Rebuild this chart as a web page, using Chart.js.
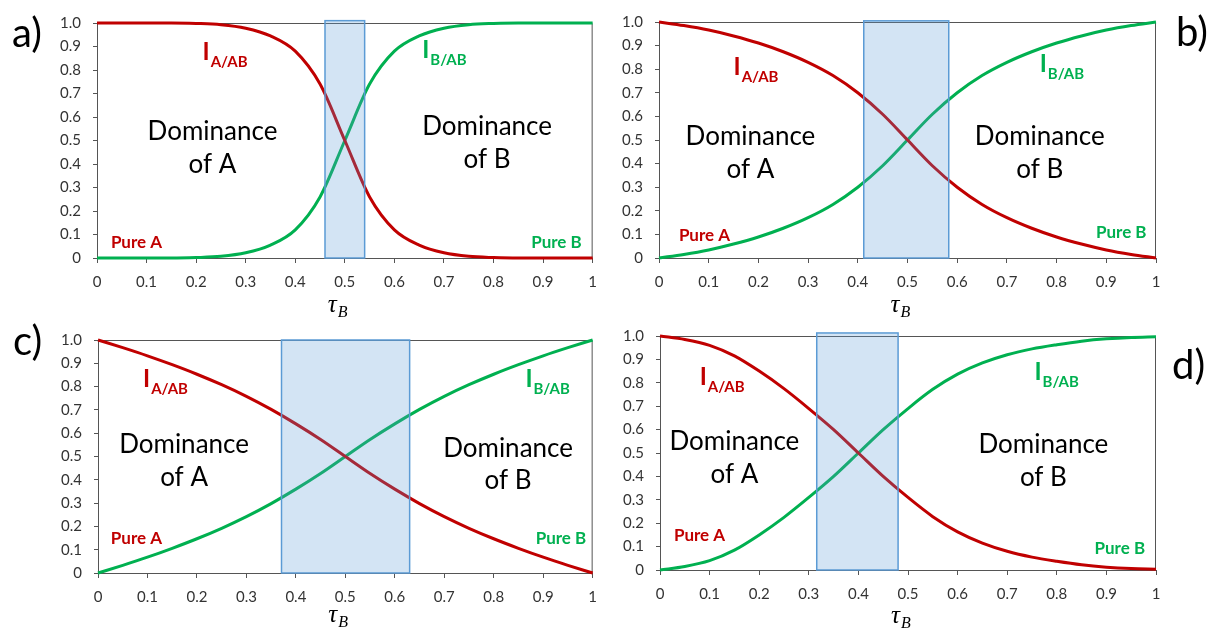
<!DOCTYPE html>
<html>
<head>
<meta charset="utf-8">
<script src="https://cdn.jsdelivr.net/npm/chart.js@4.4.0/dist/chart.umd.min.js"></script>
<style>
  body { margin: 0; background: #fff; }
  #wrap { position: relative; width: 1215px; height: 630px; overflow: hidden; }
  canvas { position: absolute; }
</style>
</head>
<body>
<div id="wrap">
  <canvas id="pa" width="607" height="330" style="left:0;top:0"></canvas>
  <canvas id="pb" width="608" height="330" style="left:607px;top:0"></canvas>
  <canvas id="pc" width="607" height="315" style="left:0;top:315px"></canvas>
  <canvas id="pd" width="608" height="315" style="left:607px;top:315px"></canvas>
</div>
<script>
// tau_B sample points (x axis)
const tauB = [0, 0.05, 0.1, 0.15, 0.2, 0.25, 0.3, 0.35, 0.4, 0.45, 0.5, 0.55, 0.6, 0.65, 0.7, 0.75, 0.8, 0.85, 0.9, 0.95, 1];

// panel a
const aRed   = [1, 1, 1, 1, 0.998, 0.993, 0.978, 0.945, 0.88, 0.74, 0.50, 0.26, 0.12, 0.055, 0.022, 0.007, 0.002, 0, 0, 0, 0];
const aGreen = [0, 0, 0, 0, 0.002, 0.007, 0.022, 0.055, 0.12, 0.26, 0.50, 0.74, 0.88, 0.945, 0.978, 0.993, 0.998, 1, 1, 1, 1];
// panel b
const bRed   = [1, 0.985, 0.966, 0.941, 0.911, 0.874, 0.829, 0.773, 0.70, 0.609, 0.50, 0.391, 0.30, 0.227, 0.171, 0.126, 0.089, 0.059, 0.034, 0.015, 0];
const bGreen = [0, 0.015, 0.034, 0.059, 0.089, 0.126, 0.171, 0.227, 0.30, 0.391, 0.50, 0.609, 0.70, 0.773, 0.829, 0.874, 0.911, 0.941, 0.966, 0.985, 1];
// panel c
const cRed   = [1, 0.967, 0.932, 0.894, 0.853, 0.808, 0.758, 0.702, 0.640, 0.573, 0.50, 0.427, 0.360, 0.298, 0.242, 0.192, 0.147, 0.106, 0.068, 0.033, 0];
const cGreen = [0, 0.033, 0.068, 0.106, 0.147, 0.192, 0.242, 0.298, 0.360, 0.427, 0.50, 0.573, 0.640, 0.702, 0.758, 0.808, 0.853, 0.894, 0.932, 0.967, 1];
// panel d
const dRed   = [1.00, 0.985, 0.96, 0.915, 0.85, 0.775, 0.69, 0.60, 0.50, 0.40, 0.31, 0.228, 0.163, 0.115, 0.08, 0.055, 0.037, 0.022, 0.012, 0.006, 0.003];
const dGreen = [0.0, 0.015, 0.04, 0.085, 0.15, 0.225, 0.31, 0.40, 0.50, 0.60, 0.69, 0.772, 0.837, 0.885, 0.92, 0.945, 0.963, 0.978, 0.988, 0.994, 0.997];

// shaded transition windows [from, to, top]
const aBox = [0.46, 0.54, 1.01];
const bBox = [0.412, 0.583, 1.005];
const cBox = [0.371, 0.63, 1.0];
const dBox = [0.316, 0.48, 1.013];

// tick labels
const xTicks = [0, 0.1, 0.2, 0.3, 0.4, 0.5, 0.6, 0.7, 0.8, 0.9, 1];
const xTickLabels = ['0', '0.1', '0.2', '0.3', '0.4', '0.5', '0.6', '0.7', '0.8', '0.9', '1'];
const yTicks = [0, 0.1, 0.2, 0.3, 0.4, 0.5, 0.6, 0.7, 0.8, 0.9, 1];
const yTickLabels = ['0', '0.1', '0.2', '0.3', '0.4', '0.5', '0.6', '0.7', '0.8', '0.9', '1.0'];

const RED = '#c00000';
const GREEN = '#00b050';
const AXIS = '#555555';
const FONT = 'Lato, "Open Sans", sans-serif';

const panels = [
  { id: 'pa', letter: 'a)', lx: 12, ly: 47, red: aRed, green: aGreen, box: aBox, mid: 0.5, tau: 54,
    area: { left: 97, top: 23, right: 594, bottom: 258 },
    notes: {
      ia: [0.213, 0.843], ib: [0.656, 0.85],
      domA: [0.233, 0.539, 0.399], domB: [0.787, 0.558, 0.418],
      pureA: [0.028, 0.064], pureB: [0.978, 0.064] } },
  { id: 'pb', letter: 'b)', lx: 569, ly: 46, red: bRed, green: bGreen, box: bBox, mid: 0.5, tau: 54,
    area: { left: 52, top: 22, right: 549, bottom: 258 },
    notes: {
      ia: [0.15, 0.777], ib: [0.766, 0.79],
      domA: [0.184, 0.515, 0.375], domB: [0.766, 0.515, 0.375],
      pureA: [0.04, 0.096], pureB: [0.981, 0.108] } },
  { id: 'pc', letter: 'c)', lx: 13, ly: 40, red: cRed, green: cGreen, box: cBox, mid: 0.5, tau: 49,
    area: { left: 98, top: 25, right: 596, bottom: 258 },
    notes: {
      ia: [0.091, 0.80], ib: [0.864, 0.80],
      domA: [0.174, 0.55, 0.41], domB: [0.829, 0.536, 0.396],
      pureA: [0.026, 0.146], pureB: [0.987, 0.15] } },
  { id: 'pd', letter: 'd)', lx: 565, ly: 64, red: dRed, green: dGreen, box: dBox, mid: 0.5, tau: 53,
    area: { left: 53, top: 21, right: 549, bottom: 255 },
    notes: {
      ia: [0.08, 0.79], ib: [0.755, 0.81],
      domA: [0.15, 0.549, 0.409], domB: [0.773, 0.535, 0.395],
      pureA: [0.028, 0.147], pureB: [0.978, 0.09] } }
];

function drawI(ctx, x, y, sub, color) {
  ctx.fillStyle = color;
  ctx.textAlign = 'left';
  ctx.textBaseline = 'alphabetic';
  ctx.font = 'bold 24px ' + FONT;
  ctx.fillText('I', x, y);
  const w = ctx.measureText('I').width;
  ctx.font = 'bold 15px ' + FONT;
  ctx.fillText(sub, x + w + 1, y + 7);
}

function panelPlugin(p) {
  return {
    id: 'panelExtras',
    beforeDatasetsDraw(chart) {
      const { ctx, chartArea: a } = chart;
      ctx.save();
      ctx.strokeStyle = AXIS;
      ctx.lineWidth = 1;
      ctx.beginPath();
      ctx.moveTo(a.left, a.top + 0.5);
      ctx.lineTo(a.right - 0.5, a.top + 0.5);
      ctx.lineTo(a.right - 0.5, a.bottom);
      ctx.stroke();
      ctx.restore();
    },
    afterDatasetsDraw(chart) {
      const { ctx } = chart;
      const xs = chart.scales.x, ys = chart.scales.y;
      const x0 = xs.getPixelForValue(p.box[0]);
      const x1 = xs.getPixelForValue(p.box[1]);
      const yt = ys.getPixelForValue(p.box[2]);
      const yb = ys.getPixelForValue(0);
      ctx.save();
      ctx.fillStyle = 'rgba(91,155,213,0.27)';
      ctx.fillRect(x0, yt, x1 - x0, yb - yt);
      ctx.strokeStyle = '#5b9bd5';
      ctx.lineWidth = 1.5;
      ctx.strokeRect(x0, yt, x1 - x0, yb - yt);
      ctx.restore();
    },
    afterDraw(chart) {
      const { ctx, chartArea: a } = chart;
      const xs = chart.scales.x, ys = chart.scales.y;
      const n = p.notes;
      const px = v => xs.getPixelForValue(v);
      const py = v => ys.getPixelForValue(v);
      ctx.save();

      drawI(ctx, px(n.ia[0]), py(n.ia[1]), 'A/AB', RED);
      drawI(ctx, px(n.ib[0]), py(n.ib[1]), 'B/AB', GREEN);

      ctx.fillStyle = '#000';
      ctx.textAlign = 'center';
      ctx.textBaseline = 'middle';
      ctx.font = '26px ' + FONT;
      ctx.fillText('Dominance', px(n.domA[0]), py(n.domA[1]));
      ctx.fillText('of A', px(n.domA[0]), py(n.domA[2]));
      ctx.fillText('Dominance', px(n.domB[0]), py(n.domB[1]));
      ctx.fillText('of B', px(n.domB[0]), py(n.domB[2]));

      ctx.font = 'bold 17px ' + FONT;
      ctx.fillStyle = RED;
      ctx.textAlign = 'left';
      ctx.fillText('Pure A', px(n.pureA[0]), py(n.pureA[1]));
      ctx.fillStyle = GREEN;
      ctx.textAlign = 'right';
      ctx.fillText('Pure B', px(n.pureB[0]), py(n.pureB[1]));

      // axis title tau_B
      const c = px(p.mid);
      ctx.fillStyle = '#000';
      ctx.textAlign = 'left';
      ctx.textBaseline = 'alphabetic';
      ctx.font = 'italic 25px "Liberation Serif", "DejaVu Serif", serif';
      ctx.fillText('τ', c - 17, a.bottom + p.tau);
      ctx.font = 'italic 16px "Liberation Serif", "DejaVu Serif", serif';
      ctx.fillText('B', c - 7, a.bottom + p.tau + 5);

      // panel letter
      ctx.font = '40px ' + FONT;
      ctx.fillText(p.letter, p.lx, p.ly);
      ctx.restore();
    }
  };
}

function makePanel(p) {
  const canvas = document.getElementById(p.id);
  const W = canvas.width, H = canvas.height;
  const line = (vals, color) => ({
    data: tauB.map((x, i) => ({ x: x, y: vals[i] })),
    borderColor: color,
    borderWidth: 3,
    pointRadius: 0,
    cubicInterpolationMode: 'monotone',
    clip: false
  });
  new Chart(canvas, {
    type: 'line',
    data: { datasets: [line(p.red, RED), line(p.green, GREEN)] },
    options: {
      responsive: false,
      animation: false,
      events: [],
      layout: { padding: { left: 0, top: p.area.top, right: W - p.area.right, bottom: 0 } },
      plugins: { legend: { display: false }, tooltip: { enabled: false } },
      scales: {
        x: {
          type: 'linear', min: 0, max: 1,
          afterFit: s => { s.height = H - p.area.bottom; },
          afterBuildTicks: s => { s.ticks = xTicks.map(v => ({ value: v })); },
          ticks: {
            callback: (v, i) => xTickLabels[i],
            autoSkip: false, maxRotation: 0, padding: 10,
            color: '#333', font: { family: FONT, size: 15 }
          },
          grid: { drawOnChartArea: false, drawTicks: true, tickLength: 5, color: AXIS },
          border: { display: true, color: AXIS, width: 1 }
        },
        y: {
          type: 'linear', min: 0, max: 1,
          afterFit: s => { s.width = p.area.left; },
          afterBuildTicks: s => { s.ticks = yTicks.map(v => ({ value: v })); },
          ticks: {
            callback: (v, i) => yTickLabels[i],
            autoSkip: false, padding: 12,
            color: '#333', font: { family: FONT, size: 15 }
          },
          grid: { drawOnChartArea: false, drawTicks: true, tickLength: 4, color: AXIS },
          border: { display: true, color: AXIS, width: 1 }
        }
      }
    },
    plugins: [panelPlugin(p)]
  });
}

panels.forEach(makePanel);
</script>
</body>
</html>
